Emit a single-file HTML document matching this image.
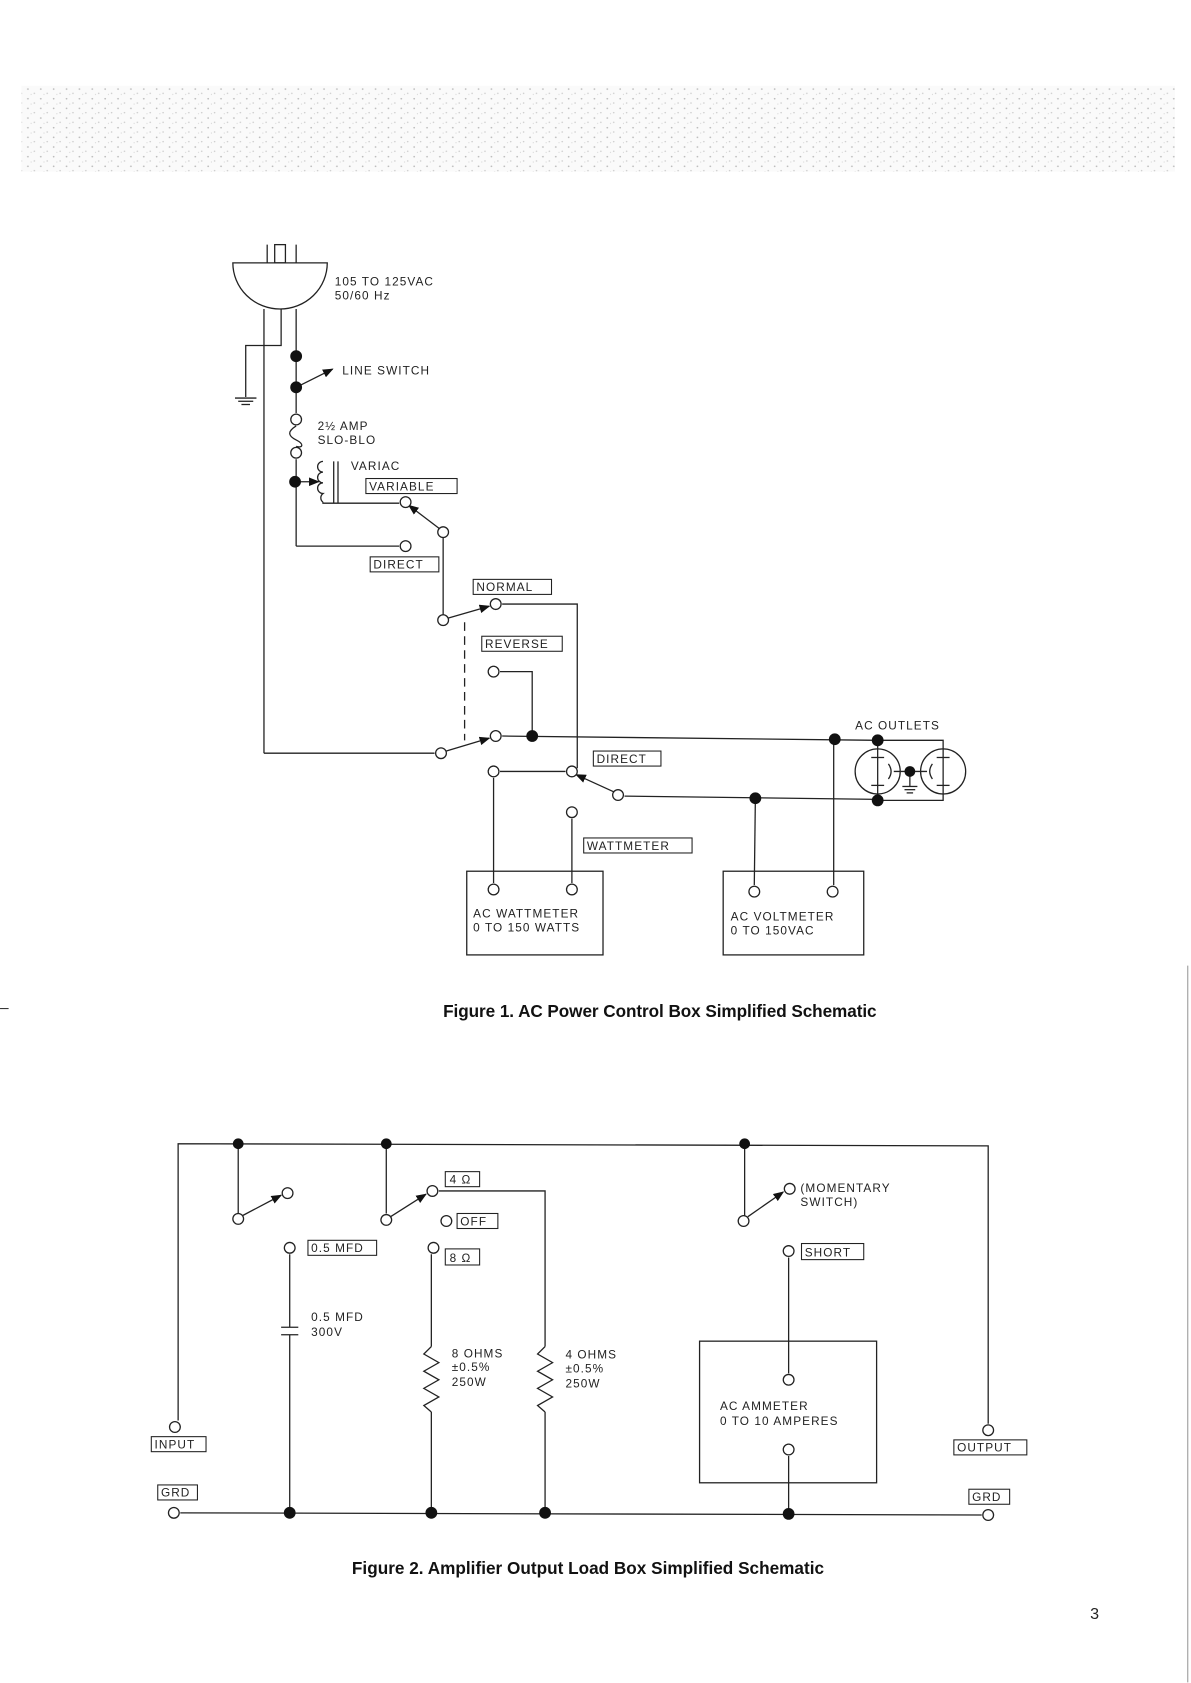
<!DOCTYPE html>
<html><head><meta charset="utf-8"><style>
html,body{margin:0;padding:0;background:#fff}
svg{display:block}
text{font-family:"Liberation Sans",sans-serif;font-size:11px;letter-spacing:1px;fill:#222}
.cap{font-family:"Liberation Sans Narrow","Liberation Sans",sans-serif;font-weight:bold;font-size:16px;letter-spacing:0;fill:#111}
</style></head><body>
<svg width="1191" height="1683" viewBox="0 0 1110 1568.6" xmlns="http://www.w3.org/2000/svg">
<defs>
<pattern id="nz" width="12" height="9" patternUnits="userSpaceOnUse">
<rect width="12" height="9" fill="#fafafa"/>
<circle cx="2" cy="2" r="0.8" fill="#bbb"/><circle cx="8" cy="6" r="0.7" fill="#ccc"/><circle cx="5" cy="7" r="0.5" fill="#ccc"/>
</pattern>
<marker id="ar" markerWidth="10" markerHeight="8" refX="9" refY="4" orient="auto" markerUnits="userSpaceOnUse"><path d="M0,0 L10,4 L0,8 z" fill="#111"/></marker>
</defs>
<rect x="20" y="80" width="1075" height="80" fill="url(#nz)"/>
<g stroke="#222" stroke-width="1.2" fill="none">
<!-- plug -->
<path d="M217,245 L305,245 A44,43 0 0 1 217,245 Z" fill="#fff"/>
<line x1="249" y1="228" x2="249" y2="245"/><line x1="276" y1="228" x2="276" y2="245"/>
<rect x="256" y="228" width="10" height="17"/>
<line x1="246" y1="288" x2="246" y2="702"/>
<polyline points="262,288 262,322 229,322 229,370"/>
<line x1="219" y1="371" x2="239" y2="371"/><line x1="222" y1="374" x2="236" y2="374"/><line x1="225" y1="377" x2="233" y2="377"/>
<line x1="276" y1="288" x2="276" y2="385"/>
<line x1="276" y1="361" x2="310" y2="344" marker-end="url(#ar)"/>
<path d="M276,397 C268,402 268,406 276,410 C284,414 282,418 276,416"/>
<line x1="276" y1="428" x2="276" y2="509"/>
<polyline points="276,509 372,509"/>
<line x1="276" y1="449" x2="297" y2="449" marker-end="url(#ar)"/>
<path d="M301,430 a5,5 0 0 0 0,10 a5,5 0 0 0 0,10 a5,5 0 0 0 0,10 a5,5 0 0 0 0,8"/>
<line x1="311" y1="430" x2="311" y2="469"/><line x1="315" y1="430" x2="315" y2="469"/>
<polyline points="301,468 301,469 372,469"/>
<line x1="410" y1="493" x2="381" y2="471" marker-end="url(#ar)"/>
<line x1="413" y1="501" x2="413" y2="573"/>
<line x1="418" y1="576" x2="456" y2="565" marker-end="url(#ar)"/>
<polyline points="468,563 538,563 538,716"/>
<line x1="433" y1="580" x2="433" y2="690" stroke-dasharray="8,5"/>
<polyline points="466,626 496,626 496,686"/>
<line x1="468" y1="686" x2="817" y2="690"/>
<polyline points="818,690 879,690 879,698"/>
<line x1="246" y1="702" x2="405" y2="702"/>
<line x1="416" y1="700" x2="456" y2="688" marker-end="url(#ar)"/>
<line x1="466" y1="719" x2="527" y2="719"/>
<line x1="572" y1="738" x2="537" y2="722" marker-end="url(#ar)"/>
<line x1="582" y1="742" x2="818" y2="745"/>
<polyline points="818,746 879,746 879,740"/>
<line x1="533" y1="763" x2="533" y2="823"/>
<line x1="460" y1="725" x2="460" y2="823"/>
<rect x="435" y="812" width="127" height="78"/>
<rect x="674" y="812" width="131" height="78"/>
<line x1="704" y1="744" x2="703" y2="825"/>
<line x1="777" y1="689" x2="777" y2="825"/>
<circle cx="818" cy="719" r="21"/><circle cx="879" cy="719" r="21"/>
<line x1="818" y1="690" x2="818" y2="746"/><line x1="879" y1="698" x2="879" y2="740"/>
<line x1="812" y1="706" x2="824" y2="706"/><line x1="812" y1="732" x2="824" y2="732"/>
<line x1="873" y1="706" x2="885" y2="706"/><line x1="873" y1="732" x2="885" y2="732"/>
<path d="M828,712 Q833,719 828,726"/><path d="M869,712 Q864,719 869,726"/>
<line x1="833" y1="719" x2="864" y2="719"/>
<line x1="848" y1="719" x2="848" y2="733"/>
<line x1="841" y1="733" x2="855" y2="733"/><line x1="843" y1="736" x2="853" y2="736"/><line x1="845" y1="739" x2="851" y2="739"/>
<!-- figure 2 -->
<polyline points="166,1324 166,1066 921,1068 921,1327"/>
<line x1="222" y1="1066" x2="222" y2="1131"/>
<line x1="226" y1="1133" x2="262" y2="1114" marker-end="url(#ar)"/>
<line x1="360" y1="1066" x2="360" y2="1131"/>
<line x1="364" y1="1134" x2="397" y2="1113" marker-end="url(#ar)"/>
<polyline points="409,1110 508,1110 508,1255"/>
<path d="M508,1255 l-7,7 l14,8 l-14,8 l14,8 l-14,8 l14,8 l-14,8 l7,6"/>
<line x1="508" y1="1316" x2="508" y2="1410"/>
<line x1="402" y1="1169" x2="402" y2="1255"/>
<path d="M402,1255 l-7,7 l14,8 l-14,8 l14,8 l-14,8 l14,8 l-14,8 l7,6"/>
<line x1="402" y1="1316" x2="402" y2="1410"/>
<line x1="270" y1="1169" x2="270" y2="1237"/><line x1="262" y1="1237" x2="278" y2="1237"/>
<line x1="262" y1="1244" x2="278" y2="1244"/><line x1="270" y1="1244" x2="270" y2="1410"/>
<line x1="694" y1="1066" x2="694" y2="1133"/>
<line x1="697" y1="1134" x2="730" y2="1111" marker-end="url(#ar)"/>
<line x1="735" y1="1172" x2="735" y2="1280"/>
<rect x="652" y="1250" width="165" height="132"/>
<line x1="735" y1="1357" x2="735" y2="1411"/>
<line x1="168" y1="1410" x2="915" y2="1412"/>
</g>
<!-- open circles -->
<g stroke="#222" stroke-width="1.2" fill="#fff">
<circle cx="276" cy="391" r="5"/><circle cx="276" cy="422" r="5"/>
<circle cx="378" cy="468" r="5"/><circle cx="413" cy="496" r="5"/><circle cx="378" cy="509" r="5"/>
<circle cx="413" cy="578" r="5"/><circle cx="462" cy="563" r="5"/><circle cx="460" cy="626" r="5"/>
<circle cx="462" cy="686" r="5"/><circle cx="411" cy="702" r="5"/><circle cx="460" cy="719" r="5"/>
<circle cx="533" cy="719" r="5"/><circle cx="576" cy="741" r="5"/><circle cx="533" cy="757" r="5"/>
<circle cx="460" cy="829" r="5"/><circle cx="533" cy="829" r="5"/><circle cx="703" cy="831" r="5"/><circle cx="776" cy="831" r="5"/>
<circle cx="222" cy="1136" r="5"/><circle cx="268" cy="1112" r="5"/><circle cx="360" cy="1137" r="5"/><circle cx="403" cy="1110" r="5"/>
<circle cx="416" cy="1138" r="5"/><circle cx="270" cy="1163" r="5"/><circle cx="404" cy="1163" r="5"/>
<circle cx="693" cy="1138" r="5"/><circle cx="736" cy="1108" r="5"/><circle cx="735" cy="1166" r="5"/>
<circle cx="735" cy="1286" r="5"/><circle cx="735" cy="1351" r="5"/>
<circle cx="163" cy="1330" r="5"/><circle cx="921" cy="1333" r="5"/><circle cx="162" cy="1410" r="5"/><circle cx="921" cy="1412" r="5"/>
</g>
<g fill="#111">
<circle cx="276" cy="332" r="5.5"/><circle cx="276" cy="361" r="5.5"/><circle cx="275" cy="449" r="5.5"/>
<circle cx="496" cy="686" r="5.5"/><circle cx="778" cy="689" r="5.5"/><circle cx="818" cy="690" r="5.5"/>
<circle cx="704" cy="744" r="5.5"/><circle cx="818" cy="746" r="5.5"/><circle cx="848" cy="719" r="5"/>
<circle cx="222" cy="1066" r="5"/><circle cx="360" cy="1066" r="5"/><circle cx="694" cy="1066" r="5"/>
<circle cx="270" cy="1410" r="5.5"/><circle cx="402" cy="1410" r="5.5"/><circle cx="508" cy="1410" r="5.5"/><circle cx="735" cy="1411" r="5.5"/>
</g>
<!-- label boxes -->
<g stroke="#222" stroke-width="1" fill="#fff">
<rect x="341" y="446" width="85" height="14"/><rect x="345" y="519" width="64" height="14"/>
<rect x="441" y="540" width="73" height="14"/><rect x="449" y="593" width="75" height="14"/>
<rect x="553" y="700" width="63" height="14"/><rect x="544" y="781" width="101" height="14"/>
<rect x="415" y="1092" width="32" height="14"/><rect x="426" y="1131" width="38" height="14"/>
<rect x="287" y="1156" width="64" height="14"/><rect x="415" y="1164" width="32" height="15"/>
<rect x="747" y="1159" width="58" height="15"/><rect x="141" y="1339" width="51" height="14"/>
<rect x="147" y="1384" width="37" height="14"/><rect x="889" y="1342" width="68" height="14"/>
<rect x="903" y="1388" width="38" height="14"/>
</g>
<g>
<text x="312" y="266">105 TO 125VAC</text><text x="312" y="279">50/60 Hz</text>
<text x="319" y="349">LINE SWITCH</text>
<text x="296" y="401">2½ AMP</text><text x="296" y="414">SLO-BLO</text>
<text x="327" y="438">VARIAC</text>
<text x="344" y="457">VARIABLE</text><text x="348" y="530">DIRECT</text>
<text x="444" y="551">NORMAL</text><text x="452" y="604">REVERSE</text>
<text x="797" y="680">AC OUTLETS</text>
<text x="556" y="711">DIRECT</text><text x="547" y="792">WATTMETER</text>
<text x="441" y="855">AC WATTMETER</text><text x="441" y="868">0 TO 150 WATTS</text>
<text x="681" y="858">AC VOLTMETER</text><text x="681" y="871">0 TO 150VAC</text>
<text class="cap" x="615" y="948" text-anchor="middle" textLength="404">Figure 1. AC Power Control Box Simplified Schematic</text>
<text x="419" y="1103">4 Ω</text><text x="429" y="1142">OFF</text>
<text x="290" y="1167">0.5 MFD</text><text x="419" y="1176">8 Ω</text>
<text x="746" y="1111">(MOMENTARY</text><text x="746" y="1124">SWITCH)</text>
<text x="750" y="1171">SHORT</text>
<text x="290" y="1231">0.5 MFD</text><text x="290" y="1245">300V</text>
<text x="421" y="1265">8 OHMS</text><text x="421" y="1278">±0.5%</text><text x="421" y="1292">250W</text>
<text x="527" y="1266">4 OHMS</text><text x="527" y="1279">±0.5%</text><text x="527" y="1293">250W</text>
<text x="671" y="1314">AC AMMETER</text><text x="671" y="1328">0 TO 10 AMPERES</text>
<text x="144" y="1350">INPUT</text><text x="150" y="1395">GRD</text>
<text x="892" y="1353">OUTPUT</text><text x="906" y="1399">GRD</text>
<text class="cap" x="548" y="1467" text-anchor="middle" textLength="440">Figure 2. Amplifier Output Load Box Simplified Schematic</text>
<text x="1016" y="1509" style="font-size:15px;letter-spacing:0">3</text>
</g>
<line x1="0" y1="940" x2="8" y2="940" stroke="#333" stroke-width="1"/>
<line x1="1107" y1="900" x2="1107" y2="1568" stroke="#999" stroke-width="1"/>
</svg>
</body></html>
